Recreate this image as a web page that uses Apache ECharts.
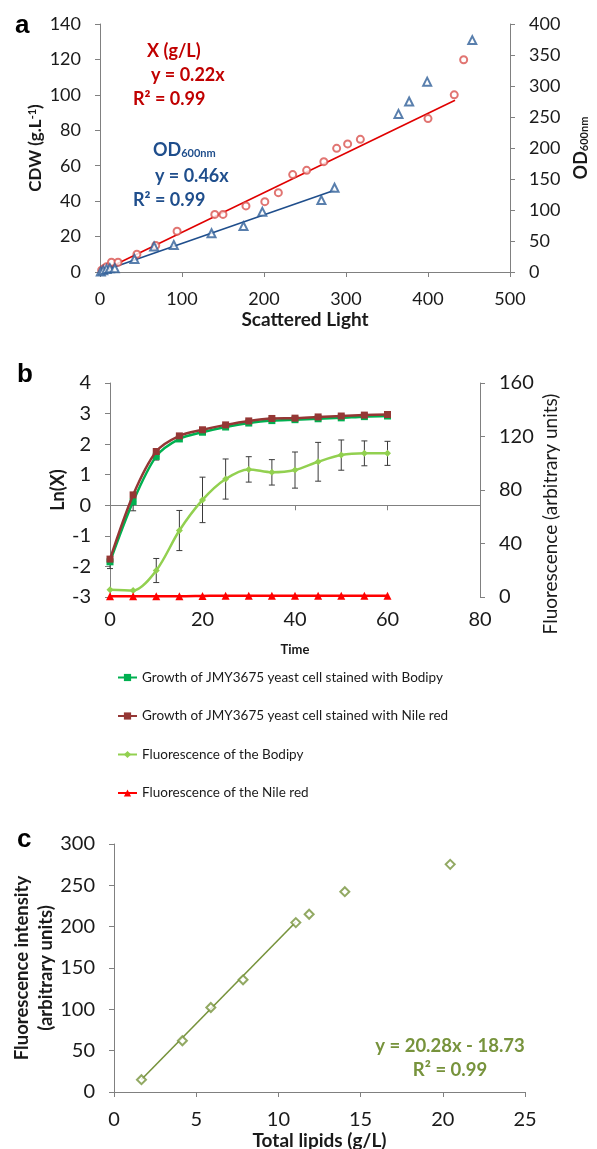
<!DOCTYPE html>
<html><head><meta charset="utf-8">
<script src="https://cdn.jsdelivr.net/npm/echarts@6/dist/echarts.min.js"></script>
<style>html,body{margin:0;padding:0;background:#fff}#c{width:597px;height:1149px}</style>
</head><body><div id="c"></div>
<script>
// ---------- Panel a data ----------
const cdwPoints = [[2,1],[5,2],[8,3],[14,5.5],[22,5.5],[45,10],[68,15],[94,23],[140,32.5],[150,32.5],[178,37.3],[201,39.7],[217.5,44.8],[235,55],[252,57.4],[273,62.3],[288.6,69.8],[302,72.3],[317.5,74.9],[400,86.6],[432,100],[443.5,119.8]];
const cdwTrend = [[0,0],[433,97]];
const odPoints = [[1,1],[4,3],[8,5],[12,6],[18,6],[42,21],[66,41],[90,43.5],[136,62.4],[175,74],[198,97],[270,116],[286,136],[364,255],[377,275],[399,307],[454,374]];
const odTrend = [[0,0],[286,132]];

// ---------- Panel b data ----------
const time = [0,5,10,15,20,25,30,35,40,45,50,55,60];
const growthBodipy = [-1.85,0.12,1.6,2.17,2.39,2.56,2.69,2.77,2.8,2.83,2.86,2.9,2.92];
const growthBodipyErr = [0.22,0.3,0.12,0,0,0,0,0,0,0,0,0,0];
const growthNile = [-1.76,0.34,1.76,2.27,2.47,2.63,2.76,2.84,2.85,2.89,2.92,2.95,2.97];
const fluoBodipy = [5.4,4.9,19.8,49.7,72.6,88.2,95.4,93.2,94.9,101.1,106.1,107.4,107.4];
const fluoBodipyErr = [0,0,9,15,17,15,9.5,9.5,13.5,14.5,11.3,9.3,9];
const fluoNile = [0.5,0.5,0.6,0.6,0.8,1,1,1,1,1,1,1,1];
const legendNames = ['Growth of JMY3675 yeast cell stained with Bodipy','Growth of JMY3675 yeast cell stained with Nile red','Fluorescence of the Bodipy','Fluorescence of the Nile red'];

// ---------- Panel c data ----------
const lipids = [1.67,4.16,5.89,7.85,11.06,11.87,14.04,20.45];
const fluoIntensity = [14.9,62,102.2,135.7,204.9,215,242.3,275.4];
const lipidTrend = [[1.67,15.1],[11.06,205.6]];

const FONT = 'Lato';
const axisLine = {lineStyle:{color:'#808080',width:1}};
const axisTick = {show:true,inside:false,length:5,lineStyle:{color:'#808080'}};
const lbl = (fs,m)=>({fontFamily:FONT,fontSize:fs,color:'#1a1a1a',margin:m});

const red='#c00000', blue='#1f4e8c', olive='#77933c';

function errRender(params, api){
  const x = api.value(0), lo = api.value(1), hi = api.value(2);
  const p1 = api.coord([x, lo]), p2 = api.coord([x, hi]);
  const w = 3, st = {stroke:'#3a3a3a', lineWidth:1};
  return {type:'group', children:[
    {type:'line', shape:{x1:p1[0],y1:p1[1],x2:p2[0],y2:p2[1]}, style:st},
    {type:'line', shape:{x1:p1[0]-w,y1:p1[1],x2:p1[0]+w,y2:p1[1]}, style:st},
    {type:'line', shape:{x1:p2[0]-w,y1:p2[1],x2:p2[0]+w,y2:p2[1]}, style:st}
  ]};
}
const fluoErrData = time.map((t,i)=>[t, fluoBodipy[i]-fluoBodipyErr[i], fluoBodipy[i]+fluoBodipyErr[i]]).filter((d,i)=>fluoBodipyErr[i]>0);
const growthErrData = time.map((t,i)=>[t, growthBodipy[i]-growthBodipyErr[i], growthBodipy[i]]).filter((d,i)=>growthBodipyErr[i]>0);

const chart = echarts.init(document.getElementById('c'), null, {renderer:'canvas'});
const boldName = (fs)=>({fontFamily:FONT,fontSize:fs,fontWeight:'bold',color:'#1a1a1a'});

const option = {
  animation:false,
  backgroundColor:'#fff',
  grid:[
    {left:100, top:24, width:410, height:248, outerBoundsMode:'none', containLabel:false},
    {left:110, top:383, width:370, height:214, outerBoundsMode:'none', containLabel:false},
    {left:114, top:844, width:411, height:248, outerBoundsMode:'none', containLabel:false}
  ],
  xAxis:[
    {gridIndex:0,type:'value',min:0,max:500,interval:100,axisLine,axisTick,splitLine:{show:false},axisLabel:lbl(18,18),
     name:'Scattered Light',nameLocation:'middle',nameGap:38,nameMoveOverlap:false,nameTextStyle:boldName(19)},
    {gridIndex:1,type:'value',min:0,max:80,interval:20,axisLine,axisTick,splitLine:{show:false},axisLabel:lbl(20,13),
     name:'Time',nameLocation:'middle',nameGap:46,nameMoveOverlap:false,nameTextStyle:boldName(13)},
    {gridIndex:2,type:'value',min:0,max:25,interval:5,axisLine,axisTick,splitLine:{show:false},axisLabel:lbl(20,18),
     name:'Total lipids (g/L)',nameLocation:'middle',nameGap:39,nameMoveOverlap:false,nameTextStyle:boldName(19)}
  ],
  yAxis:[
    {gridIndex:0,type:'value',min:0,max:140,interval:20,axisLine:{show:true,...axisLine},axisTick,splitLine:{show:false},axisLabel:lbl(18,19),
     name:'{n|CDW (g.L}{s|-1}{n|)}',nameLocation:'middle',nameGap:56,nameRotate:90,nameMoveOverlap:false,
     nameTextStyle:{rich:{n:{fontFamily:FONT,fontSize:17,fontWeight:'bold',color:'#1a1a1a'},s:{fontFamily:FONT,fontSize:11,fontWeight:'bold',color:'#1a1a1a',verticalAlign:'top'}}}},
    {gridIndex:0,type:'value',position:'right',min:0,max:400,interval:50,axisLine:{show:true,...axisLine},axisTick,splitLine:{show:false},axisLabel:lbl(18,19),
     name:'{n|OD}{s|600nm}',nameLocation:'middle',nameGap:62,nameRotate:90,nameMoveOverlap:false,
     nameTextStyle:{rich:{n:{fontFamily:FONT,fontSize:18,fontWeight:'bold',color:'#1a1a1a'},s:{fontFamily:FONT,fontSize:11,fontWeight:'bold',color:'#1a1a1a',verticalAlign:'bottom'}}}},
    {gridIndex:1,type:'value',min:-3,max:4,interval:1,axisLine:{show:true,...axisLine},axisTick,splitLine:{show:false},axisLabel:lbl(20,19),
     name:'Ln(X)',nameLocation:'middle',nameGap:43,nameRotate:90,nameMoveOverlap:false,nameTextStyle:boldName(18)},
    {gridIndex:1,type:'value',position:'right',min:0,max:160,interval:40,axisLine:{show:true,...axisLine},axisTick,splitLine:{show:false},axisLabel:lbl(20,19)},
    {gridIndex:2,type:'value',min:0,max:300,interval:50,axisLine:{show:true,...axisLine},axisTick,splitLine:{show:false},axisLabel:lbl(20,19),
     name:'Fluorescence intensity\n(arbitrary units)',nameLocation:'middle',nameGap:56,nameRotate:90,nameMoveOverlap:false,
     nameTextStyle:{...boldName(18.5),lineHeight:24}}
  ],
  legend:{
    data:legendNames, orient:'vertical', left:117, top:670, padding:0,
    itemWidth:19, itemHeight:9, itemGap:23.5,
    textStyle:{fontFamily:FONT,fontSize:13.5,color:'#1a1a1a',lineHeight:15},
    selectedMode:false
  },
  series:[
    // panel a
    {type:'line',xAxisIndex:0,yAxisIndex:0,data:cdwTrend,showSymbol:false,symbol:'none',lineStyle:{color:'#e00000',width:1.6},z:2},
    {type:'scatter',xAxisIndex:0,yAxisIndex:0,data:cdwPoints,symbol:'emptyCircle',symbolSize:7,itemStyle:{color:'#d9534f',borderWidth:1.2},z:3},
    {type:'line',xAxisIndex:0,yAxisIndex:1,data:odTrend,showSymbol:false,symbol:'none',lineStyle:{color:blue,width:1.6},z:2},
    {type:'scatter',xAxisIndex:0,yAxisIndex:1,data:odPoints,symbol:'emptyTriangle',symbolSize:8,itemStyle:{color:'#2f5f98',borderWidth:1.3},z:3},
    // panel b
    {type:'custom',xAxisIndex:1,yAxisIndex:2,data:growthErrData,renderItem:errRender,encode:{x:0,y:[1,2]},z:1},
    {name:legendNames[0],type:'line',xAxisIndex:1,yAxisIndex:2,data:time.map((t,i)=>[t,growthBodipy[i]]),smooth:0.3,
     symbol:'rect',symbolSize:7,lineStyle:{color:'#00b050',width:2.5},itemStyle:{color:'#00b050'},z:3},
    {name:legendNames[1],type:'line',xAxisIndex:1,yAxisIndex:2,data:time.map((t,i)=>[t,growthNile[i]]),smooth:0.3,
     symbol:'rect',symbolSize:7,lineStyle:{color:'#953735',width:2.5},itemStyle:{color:'#953735'},z:4},
    {type:'custom',xAxisIndex:1,yAxisIndex:3,data:fluoErrData,renderItem:errRender,encode:{x:0,y:[1,2]},z:2},
    {name:legendNames[2],type:'line',xAxisIndex:1,yAxisIndex:3,data:time.map((t,i)=>[t,fluoBodipy[i]]),smooth:0.3,
     symbol:'diamond',symbolSize:7,lineStyle:{color:'#92d050',width:2.5},itemStyle:{color:'#92d050'},z:3},
    {name:legendNames[3],type:'line',xAxisIndex:1,yAxisIndex:3,data:time.map((t,i)=>[t,fluoNile[i]]),smooth:0.3,
     symbol:'triangle',symbolSize:8,lineStyle:{color:'#ff0000',width:2.5},itemStyle:{color:'#ff0000'},z:3},
    // panel c
    {type:'line',xAxisIndex:2,yAxisIndex:4,data:lipidTrend,showSymbol:false,symbol:'none',lineStyle:{color:olive,width:1.6},z:2},
    {type:'scatter',xAxisIndex:2,yAxisIndex:4,data:lipids.map((x,i)=>[x,fluoIntensity[i]]),symbol:'emptyDiamond',symbolSize:9,itemStyle:{color:olive,borderWidth:1.4},z:3}
  ],
  graphic:[
    {type:'text',left:15,top:13,style:{text:'a',font:'bold 26px Arial',fill:'#000'}},
    {type:'text',left:17,top:362,style:{text:'b',font:'bold 26px Arial',fill:'#000'}},
    {type:'text',left:17,top:827,style:{text:'c',font:'bold 26px Arial',fill:'#000'}},
    // panel a annotations
    {type:'text',x:147,y:51,style:{text:'X (g/L)',font:'bold 18px Lato',fill:red,textVerticalAlign:'middle'}},
    {type:'text',x:151,y:75,style:{text:'y = 0.22x',font:'bold 18px Lato',fill:red,textVerticalAlign:'middle'}},
    {type:'text',x:133,y:99,style:{text:'R² = 0.99',font:'bold 18px Lato',fill:red,textVerticalAlign:'middle'}},
    {type:'text',x:153,y:150,style:{text:'{n|OD}{s|600nm}',fill:blue,textVerticalAlign:'middle',
      rich:{n:{fontFamily:FONT,fontSize:18,fontWeight:'bold',fill:blue},s:{fontFamily:FONT,fontSize:11,fontWeight:'bold',fill:blue,verticalAlign:'bottom'}}}},
    {type:'text',x:155,y:176,style:{text:'y = 0.46x',font:'bold 18px Lato',fill:blue,textVerticalAlign:'middle'}},
    {type:'text',x:133,y:200,style:{text:'R² = 0.99',font:'bold 18px Lato',fill:blue,textVerticalAlign:'middle'}},
    // panel b right title
    {type:'text',x:551,y:514,rotation:Math.PI/2,style:{text:'Fluorescence (arbitrary units)',font:'19px Lato',fill:'#1a1a1a',textAlign:'center',textVerticalAlign:'middle'}},
    // panel c annotations
    {type:'text',x:450,y:1046,style:{text:'y = 20.28x - 18.73',font:'bold 18.5px Lato',fill:olive,textAlign:'center',textVerticalAlign:'middle'}},
    {type:'text',x:450,y:1070,style:{text:'R² = 0.99',font:'bold 18.5px Lato',fill:olive,textAlign:'center',textVerticalAlign:'middle'}}
  ]
};
chart.setOption(option);
</script>
</body></html>
